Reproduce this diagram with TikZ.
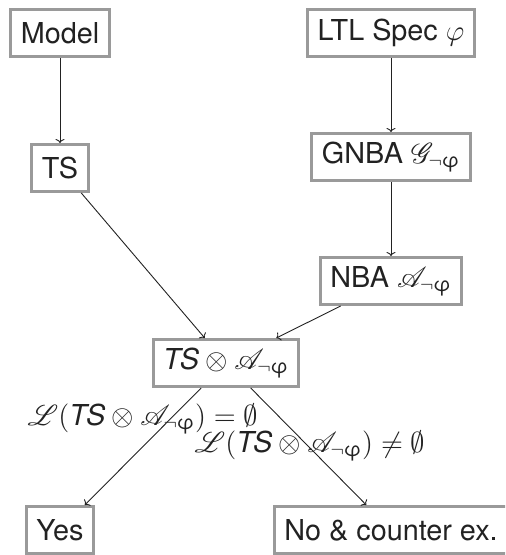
\documentclass[tikz,border=0pt]{standalone}
\usepackage{amsmath,amssymb,mathrsfs}
\usepackage{fontspec}
\setmainfont{TeX Gyre Heros}
\usetikzlibrary{arrows.meta}
\definecolor{boxgray}{HTML}{9A9A9A}
\definecolor{ink}{HTML}{222222}
% negated formula used as a subscript, with an upright sans phi
\newcommand{\negphi}{\neg\text{φ}}
\newcommand{\Aut}{\mathscr{A}_{\negphi}}
\newcommand{\Prod}{\textit{TS}\otimes\Aut}
\begin{document}
\begin{tikzpicture}[x=0.5pt,y=-0.5pt,
  font=\Large,
  stepbox/.style={draw=boxgray,line width=1.5pt,fill=white,text=ink,
    inner xsep=5pt,inner ysep=0pt,minimum height=23.5pt},
  flow/.style={draw=ink,line width=0.45pt,-{To[length=2pt,width=4.5pt]}},
  cond/.style={text=ink,anchor=base,inner sep=0pt}]
  \clip (0,0) rectangle (505,555);
  \useasboundingbox (0,0) rectangle (505,555);

  % input side
  \node[stepbox] (model) at (60,33) {Model};
  \node[stepbox] (ts) at (60,168) {TS};
  % specification side
  \node[stepbox] (ltl) at (391,33) {LTL Spec $\varphi$};
  \node[stepbox] (gnba) at (391,157) {GNBA $\mathscr{G}_{\negphi}$};
  \node[stepbox] (nba) at (391,281) {NBA $\Aut$};
  % product and verdicts
  \node[stepbox] (prod) at (226,363) {$\Prod$};
  \node[stepbox] (yes) at (60,530) {Yes};
  \node[stepbox] (no) at (391,530) {No \& counter ex.};

  \draw[flow] (model) -- (ts);
  \draw[flow] (ltl) -- (gnba);
  \draw[flow] (gnba) -- (nba);
  \draw[flow] (ts) -- (prod);
  \draw[flow] (nba) -- (prod);
  \draw[flow] (prod) -- (yes);
  \draw[flow] (prod) -- (no);

  % emptiness conditions on the outgoing edges
  \node[cond] (empty) at (143,425) {$\mathscr{L}(\Prod)=\emptyset$};
  \node[cond] (nonempty) at (310,452) {$\mathscr{L}(\Prod)\neq\emptyset$};
\end{tikzpicture}
\end{document}
